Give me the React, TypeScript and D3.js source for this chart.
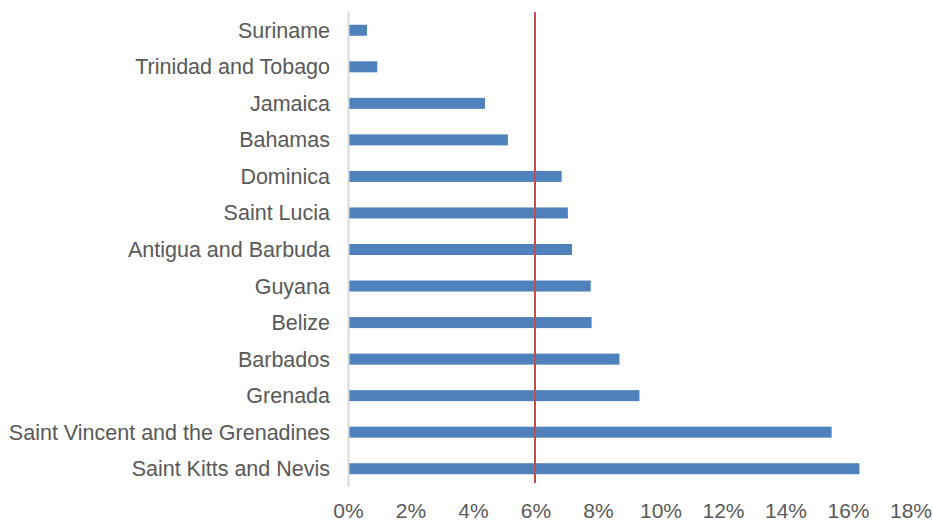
import React from "react";
import * as d3 from "d3";

const countries = [
  "Suriname",
  "Trinidad and Tobago",
  "Jamaica",
  "Bahamas",
  "Dominica",
  "Saint Lucia",
  "Antigua and Barbuda",
  "Guyana",
  "Belize",
  "Barbados",
  "Grenada",
  "Saint Vincent and the Grenadines",
  "Saint Kitts and Nevis",
];
const values = [0.59, 0.92, 4.37, 5.1, 6.82, 7.02, 7.15, 7.75, 7.78, 8.67, 9.31, 15.46, 16.35];
const xTicks = [0, 2, 4, 6, 8, 10, 12, 14, 16, 18];
const referenceValue = 6;

const W = 933;
const H = 521;
const M = { left: 348.5, right: 22, top: 12, bottom: 34 };

export default function App() {
  const x = d3.scaleLinear().domain([0, 18]).range([M.left, W - M.right]);
  const band = d3.scaleBand<string>().domain(countries).range([M.top, H - M.bottom]);
  const font = "'Liberation Sans', Arial, sans-serif";
  return (
    <svg
      width={W}
      height={H}
      style={{ position: "absolute", left: 0, top: 0, background: "#fff" }}
    >
      {countries.map((c, i) => (
        <g key={c}>
          <rect
            x={x(0)}
            y={band(c)! + band.bandwidth() / 2 - 5.5}
            width={x(values[i]) - x(0)}
            height={11}
            fill="#4f81bd"
          />
          <text
            x={330}
            y={band(c)! + band.bandwidth() / 2}
            dy="0.35em"
            textAnchor="end"
            fontFamily={font}
            fontSize={21.5}
            fill="#595959"
          >
            {c}
          </text>
        </g>
      ))}
      <line x1={x(0)} x2={x(0)} y1={M.top} y2={H - M.bottom} stroke="#d9d9d9" strokeWidth={2} />
      <line
        x1={x(referenceValue) - 1}
        x2={x(referenceValue) - 1}
        y1={M.top}
        y2={H - M.bottom - 4}
        stroke="#c0504d"
        strokeWidth={2}
      />
      {xTicks.map((t) => (
        <text
          key={t}
          x={x(t)}
          y={510.5}
          dy="0.35em"
          textAnchor="middle"
          fontFamily={font}
          fontSize={21}
          fill="#595959"
        >
          {t + "%"}
        </text>
      ))}
    </svg>
  );
}
